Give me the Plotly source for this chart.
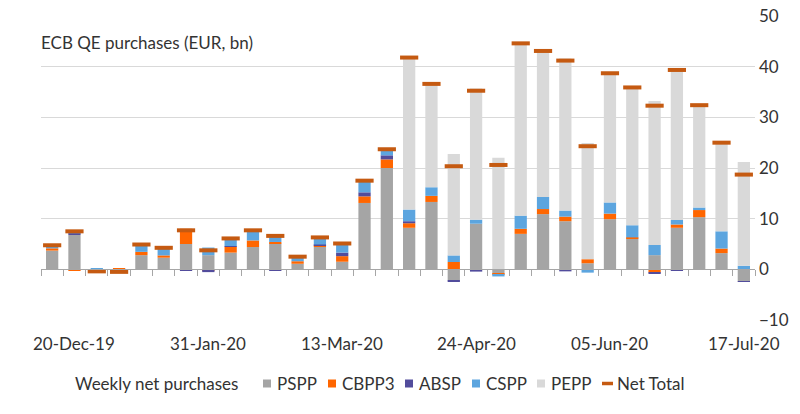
import plotly.graph_objects as go

# weekly ECB QE net purchases, EUR bn
weeks = ["13-Dec-19", "20-Dec-19", "27-Dec-19", "03-Jan-20", "10-Jan-20", "17-Jan-20",
         "24-Jan-20", "31-Jan-20", "07-Feb-20", "14-Feb-20", "21-Feb-20", "28-Feb-20",
         "06-Mar-20", "13-Mar-20", "20-Mar-20", "27-Mar-20", "03-Apr-20", "10-Apr-20",
         "17-Apr-20", "24-Apr-20", "01-May-20", "08-May-20", "15-May-20", "22-May-20",
         "29-May-20", "05-Jun-20", "12-Jun-20", "19-Jun-20", "26-Jun-20", "03-Jul-20",
         "10-Jul-20", "17-Jul-20"]

pspp = [3.7, 6.8, -0.3, -0.65, 2.8, 2.3, 5.0, 2.8, 3.3, 4.4, 5.1, 1.1, 4.5, 1.5, 13.1, 20.0,
        8.2, 13.3, -2.2, 9.0, -0.9, 7.0, 10.9, 9.5, 1.2, 9.9, 6.1, 2.8, 8.2, 10.3, 3.2, -2.4]
cbpp3 = [0.45, -0.2, -0.3, 0.15, 0.65, 0.45, 3.0, -0.25, 1.2, 1.3, 0.3, 0.5, 0.2, 1.1, 1.3, 1.7,
         0.9, 1.2, 1.45, 0.0, -0.2, 1.0, 1.0, 0.9, 0.8, 1.1, 0.2, -0.65, 0.65, 1.4, 0.9, 0.0]
absp = [0.0, 0.3, 0.0, 0.0, 0.0, 0.0, -0.3, -0.3, 0.1, 0.0, -0.3, 0.0, 0.2, 0.7, 0.8, 0.8,
        0.4, 0.0, -0.2, -0.45, 0.0, 0.0, 0.0, -0.4, 0.0, 0.0, 0.0, -0.25, -0.3, 0.0, 0.0, -0.1]
cspp = [0.6, 0.6, 0.2, 0.0, 1.45, 1.5, 0.0, 1.5, 1.5, 2.0, 1.5, 0.9, 1.4, 1.8, 2.3, 1.2,
        2.3, 1.7, 1.3, 0.8, -0.3, 2.6, 2.4, 1.2, -0.65, 2.2, 2.4, 2.0, 0.9, 0.5, 3.4, 0.7]
pepp = [0.0, 0.0, 0.0, 0.0, 0.0, 0.0, 0.0, 0.0, 0.0, 0.0, 0.0, 0.0, 0.0, 0.0, 0.0, 0.0,
        30.0, 20.4, 20.0, 25.9, 22.0, 34.0, 28.8, 30.0, 22.95, 25.5, 27.2, 28.4, 29.9, 20.2, 17.5, 20.5]
net_total = [4.75, 7.5, -0.4, -0.5, 4.9, 4.25, 7.7, 3.75, 6.1, 7.7, 6.6, 2.5, 6.3, 5.1, 17.5, 23.7,
             41.8, 36.6, 20.35, 35.25, 20.6, 44.6, 43.1, 41.2, 24.3, 38.7, 35.9, 32.3, 39.35, 32.4, 25.0, 18.7]

label_weeks = weeks[1::6]

font_name = "Lato"
text_col = "#333333"
net_col = "#C55A11"

series = [("PSPP", pspp, "#A5A5A5"),
          ("CBPP3", cbpp3, "#FF6600"),
          ("ABSP", absp, "#524C9C"),
          ("CSPP", cspp, "#5CA5DF"),
          ("PEPP", pepp, "#D9D9D9")]

# the page body has an 8px margin, so the figure is shrunk to keep the
# plot area at x 41..755, y 16..320 of the 800x414 window
OFF = 8
FIG_W, FIG_H = 800 - OFF, 414 - OFF
L, R, T, B = 41 - OFF, 45, 16 - OFF, 94
W, H = FIG_W - L - R, FIG_H - T - B


def px_x(p):
    # window pixel -> paper x
    return (p - OFF - L) / W


def px_y(p):
    # window pixel -> paper y
    return (FIG_H - B - (p - OFF)) / H


fig = go.Figure()

for name, vals, col in series:
    fig.add_trace(go.Bar(x=weeks, y=vals, name=name, marker=dict(color=col, line_width=0)))

fig.add_trace(go.Scatter(
    x=weeks, y=net_total, name="Net Total", mode="markers",
    marker=dict(symbol="line-ew", size=13, line=dict(width=4, color=net_col))
))

annotations = [dict(text="ECB QE purchases (EUR, bn)", xref="paper", yref="paper",
                    x=px_x(39), y=px_y(42), xanchor="left", yanchor="middle", showarrow=False,
                    font=dict(size=17, color=text_col))]

# date labels below the plot, one every six weeks
for wk in label_weeks:
    annotations.append(dict(text=wk, xref="x", yref="paper", x=wk, y=px_y(343),
                            xanchor="center", yanchor="middle", showarrow=False,
                            font=dict(size=17, color=text_col)))

# legend row, laid out like the original
leg_y = 383
annotations.append(dict(text="Weekly net purchases", xref="paper", yref="paper",
                        x=px_x(73), y=px_y(leg_y), xanchor="left", yanchor="middle",
                        showarrow=False, font=dict(size=17, color=text_col)))
sym_x = [267, 332, 409, 476, 541]
shapes = []
for (name, vals, col), sx in zip(series, sym_x):
    shapes.append(dict(type="rect", xref="paper", yref="paper",
                       x0=px_x(sx - 4), x1=px_x(sx + 4), y0=px_y(leg_y + 4.5), y1=px_y(leg_y - 3.5),
                       fillcolor=col, line_width=0))
    annotations.append(dict(text=name, xref="paper", yref="paper", x=px_x(sx + 8), y=px_y(leg_y),
                            xanchor="left", yanchor="middle", showarrow=False,
                            font=dict(size=17, color=text_col)))
shapes.append(dict(type="line", xref="paper", yref="paper", x0=px_x(602), x1=px_x(613),
                   y0=px_y(leg_y + 0.5), y1=px_y(leg_y + 0.5), line=dict(color=net_col, width=3.5)))
annotations.append(dict(text="Net Total", xref="paper", yref="paper", x=px_x(615), y=px_y(leg_y),
                        xanchor="left", yanchor="middle", showarrow=False,
                        font=dict(size=17, color=text_col)))

fig.update_layout(
    template="none",
    width=FIG_W, height=FIG_H,
    margin=dict(l=L, r=R, t=T, b=B),
    paper_bgcolor="white", plot_bgcolor="white",
    barmode="relative", bargap=0.45,
    showlegend=False,
    font=dict(family=font_name, size=17, color=text_col),
    # category axis sits on the zero line, ticks between the weeks
    xaxis=dict(type="category", range=[-0.5, 31.5], anchor="free", position=1 / 6,
               tickmode="linear", tick0=0, dtick=1, tickson="boundaries",
               ticks="outside", ticklen=6, tickcolor="#A6A6A6", tickwidth=1,
               showline=True, linecolor="#A6A6A6", linewidth=1,
               showticklabels=False, showgrid=False, zeroline=False, automargin=False),
    yaxis=dict(side="right", range=[-10, 50], dtick=10, showgrid=True, gridcolor="#D9D9D9",
               gridwidth=1, zeroline=True, zerolinecolor="#A6A6A6", zerolinewidth=1,
               ticks="", showline=False, automargin=False, ticklabeloverflow="allow",
               tickfont=dict(size=17, color=text_col), ticklabelstandoff=3),
    annotations=annotations,
    shapes=shapes,
    hovermode="x",
)

fig.write_html("out.html")
